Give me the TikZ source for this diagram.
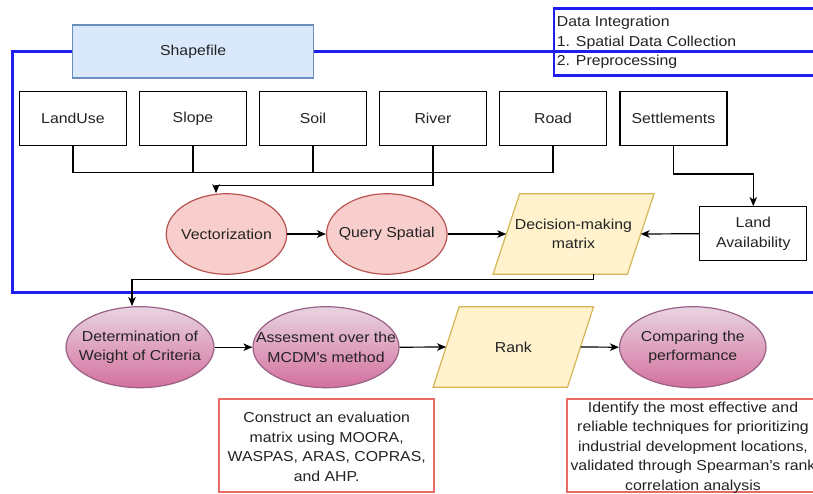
\documentclass[tikz,border=0pt]{standalone}
\usepackage{fontspec}
\setmainfont{Liberation Sans}[FakeStretch=1.1]
\usetikzlibrary{arrows.meta,shapes.geometric}
\definecolor{frameblue}{RGB}{30,30,240}
\definecolor{txt}{RGB}{35,35,35}
\definecolor{sfill}{RGB}{218,232,252}
\definecolor{sline}{RGB}{108,142,191}
\definecolor{rfill}{RGB}{248,206,204}
\definecolor{rline}{RGB}{184,84,80}
\definecolor{yfill}{RGB}{255,242,204}
\definecolor{yline}{RGB}{214,182,86}
\definecolor{ptop}{RGB}{232,212,225}
\definecolor{pbot}{RGB}{212,112,158}
\definecolor{pline}{RGB}{153,97,133}
\definecolor{noteline}{RGB}{234,107,102}
\begin{document}
\begin{tikzpicture}[x=1pt,y=-1pt,
  font=\fontsize{14.4}{19.5}\selectfont, text=txt,
  databox/.style={draw=black, line width=1.2pt, minimum width=107pt, minimum height=54pt, inner sep=0pt},
  redell/.style={ellipse, draw=rline, line width=1.2pt, fill=rfill, minimum width=120.5pt, minimum height=80.5pt, inner sep=0pt},
  purpell/.style={ellipse, draw=pline, line width=1.2pt, top color=ptop, bottom color=pbot, minimum width=146pt, minimum height=81pt, inner sep=0pt},
  para/.style={draw=none, minimum width=134pt, minimum height=80pt, inner sep=0pt, align=center},
  parashape/.style={draw=yline, fill=yfill, line width=1.2pt, line join=miter},
  notebox/.style={draw=noteline, line width=2pt, fill=white, inner sep=0pt},
  conn/.style={draw=black, line width=1.2pt},
  arr/.style={conn, -{Stealth[length=9pt,width=7.5pt,inset=2.5pt]}},
  blueframe/.style={draw=frameblue, line width=3pt}
]
\useasboundingbox (0,0) rectangle (813,493);
\fill[white] (0,0) rectangle (813,493);
\clip (0,0) rectangle (813,493);

% blue frame of the data integration stage
\draw[blueframe] (830,51.7) -- (12.4,51.7) -- (12.4,292.3) -- (830,292.3);

% shapefile
\node[draw=sline, fill=sfill, line width=1.2pt, minimum width=241pt, minimum height=53pt, inner sep=0pt] (shp) at (193.1,51.5) {Shapefile};

% data integration label box
\node[draw=frameblue, line width=2.5pt, minimum width=280pt, minimum height=66.7pt, anchor=north west, inner sep=0pt] (dibox) at (552.7,7.3) {};
\node[anchor=base west, inner sep=0pt] (di1) at (556.7,26.7) {Data Integration};
\node[anchor=base west, inner sep=0pt] (di2) at (556.7,46.2) {1. Spatial Data Collection};
\node[anchor=base west, inner sep=0pt] (di3) at (556.7,65.7) {2. Preprocessing};

% data layers
\node[databox] (lu) at (72.9,118.7) {LandUse};
\node[databox] (sl) at (193,118.7) {Slope};
\node[databox] (so) at (313,118.7) {Soil};
\node[databox] (ri) at (433,118.7) {River};
\node[databox] (ro) at (553,118.7) {Road};
\node[databox] (se) at (673.4,118.7) {Settlements};

% processing row
\node[redell] (vec) at (226.5,234) {};
\node at (vec.center) {Vectorization};
\node[redell] (qs) at (386.8,234) {};
\node at (qs.center) {Query Spatial};
\node[para] (dm) at (573.5,234) {Decision-making\\matrix};
\draw[parashape] ([xshift=13.3pt]dm.north west) -- ([xshift=13.3pt]dm.north east) -- ([xshift=-13.3pt]dm.south east) -- ([xshift=-13.3pt]dm.south west) -- cycle;
\node[align=center] at (dm.center) {Decision-making\\matrix};
\node[databox, align=center] (la) at (753.3,233.7) {Land\\Availability};

% bottom row
\node[purpell, minimum width=148pt] (det) at (140,347.2) {};
\node[align=center] at (det.center) {Determination of\\Weight of Criteria};
\node[purpell] (ass) at (326,347.2) {};
\node[align=center] at (ass.center) {Assesment over the\\MCDM\textquotesingle s method};
\node[para] (rk) at (513.3,347) {Rank};
\draw[parashape] ([xshift=13pt]rk.north west) -- ([xshift=13pt]rk.north east) -- ([xshift=-13pt]rk.south east) -- ([xshift=-13pt]rk.south west) -- cycle;
\node at (rk.center) {Rank};
\node[purpell, minimum width=146.5pt] (cmp) at (692.8,347.2) {};
\node[align=center] at (cmp.center) {Comparing the\\performance};

% notes
\node[notebox, minimum width=215.3pt, minimum height=92.7pt] (n1) at (326.7,445.3) {};
\node[align=center] at (326.7,447) {Construct an evaluation\\matrix using MOORA,\\WASPAS, ARAS, COPRAS,\\and AHP.};
\node[notebox, minimum width=252.6pt, minimum height=92.7pt] (n2) at (693,445.3) {};
\node[align=center] at (693,447.5) {Identify the most effective and\\reliable techniques for prioritizing\\industrial development locations,\\validated through Spearman\textquotesingle s rank\\correlation analysis};

% connectors
\coordinate (bus) at (0,172.5);
\coordinate (rbend) at (0,185.7);
\coordinate (sbend) at (0,174);
\coordinate (dbend) at (0,279.3);
\draw[conn] (lu.south) |- (ro.south |- bus) -- (ro.south);
\draw[conn] (sl.south) -- (sl.south |- bus);
\draw[conn] (so.south) -- (so.south |- bus);
\draw[arr] (ri.south) |- ([xshift=-10.5pt]vec.north |- rbend) -- ([xshift=-10.5pt]vec.north);
\draw[arr] (se.south) |- (la.north |- sbend) -- (la.north);
\draw[arr] (vec.east) -- (qs.west);
\draw[arr] (qs.east) -- (dm.west);
\draw[arr] (la.west) -- (dm.east);
\draw[arr] ([xshift=20pt]dm.south) |- ([xshift=-8pt]det.north |- dbend) -- ([xshift=-8pt]det.north);
\draw[arr] (det.east) -- (ass.west);
\draw[arr] (ass.east) -- (rk.west);
\draw[arr] (rk.east) -- (cmp.west);
\end{tikzpicture}
\end{document}
